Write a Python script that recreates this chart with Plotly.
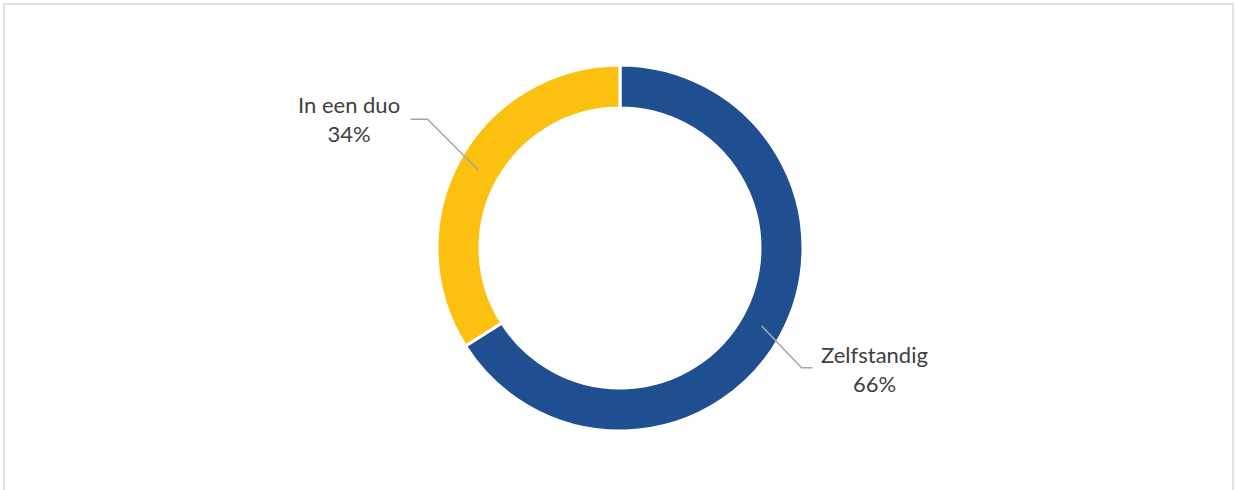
import math
import plotly.graph_objects as go

# Data
categories = ["Zelfstandig", "In een duo"]
values = [66, 34]
colors = ["#1F4E91", "#FCC010"]

# Layout constants (pixels)
W, H = 1235, 490
CX, CY = 620, 248
R_OUT = 183
HOLE = 0.765
R_MID = R_OUT * (1 + HOLE) / 2
FONT = "Lato"

# label offsets (elbow / horizontal end / text centre) relative to slice anchor
label_layout = {
    "Zelfstandig": dict(elbow=(40, 42), end=(51, 42), text=(113, 43)),
    "In een duo": dict(elbow=(-51, -51), end=(-68, -51), text=(-129, -51)),
}

def px(x):
    return x / W

def py(y):
    return 1 - y / H

fig = go.Figure()
fig.add_trace(go.Pie(
    labels=categories,
    values=values,
    hole=HOLE,
    sort=False,
    direction="clockwise",
    rotation=0,
    marker=dict(colors=colors, line=dict(color="white", width=3)),
    textinfo="none",
    hoverinfo="label+percent",
    showlegend=False,
    domain=dict(x=[px(CX - R_OUT), px(CX + R_OUT)],
                y=[py(CY + R_OUT), py(CY - R_OUT)]),
))

shapes = [dict(type="rect", xref="paper", yref="paper",
               x0=px(4), x1=px(1233), y0=py(520), y1=py(4),
               line=dict(color="#D9D9D9", width=1.5), layer="below")]
annotations = []
total = sum(values)
cum = 0
for cat, v in zip(categories, values):
    mid = (cum + v / 2) / total * 2 * math.pi
    cum += v
    sx = CX + R_MID * math.sin(mid)
    sy = CY - R_MID * math.cos(mid)
    L = label_layout[cat]
    ex, ey = sx + L["elbow"][0], sy + L["elbow"][1]
    hx, hy = sx + L["end"][0], sy + L["end"][1]
    tx, ty = sx + L["text"][0], sy + L["text"][1]
    shapes.append(dict(type="path", xref="paper", yref="paper",
                       path=f"M {px(sx)},{py(sy)} L {px(ex)},{py(ey)} L {px(hx)},{py(hy)}",
                       line=dict(color="#A6A6A6", width=1.5)))
    pct = round(v / total * 100)
    annotations.append(dict(x=px(tx), y=py(ty), xref="paper", yref="paper",
                            text=f"{cat}<br>{pct}%", showarrow=False,
                            xanchor="center", yanchor="middle", align="center",
                            font=dict(family=FONT, size=22, color="#404040")))

fig.update_layout(
    width=W, height=H,
    margin=dict(l=0, r=0, t=0, b=0),
    paper_bgcolor="white", plot_bgcolor="white",
    shapes=shapes, annotations=annotations,
)
fig.write_html("out.html",
               config={"displayModeBar": False},
               post_script="document.body.style.margin='0';document.body.style.overflow='hidden';")
